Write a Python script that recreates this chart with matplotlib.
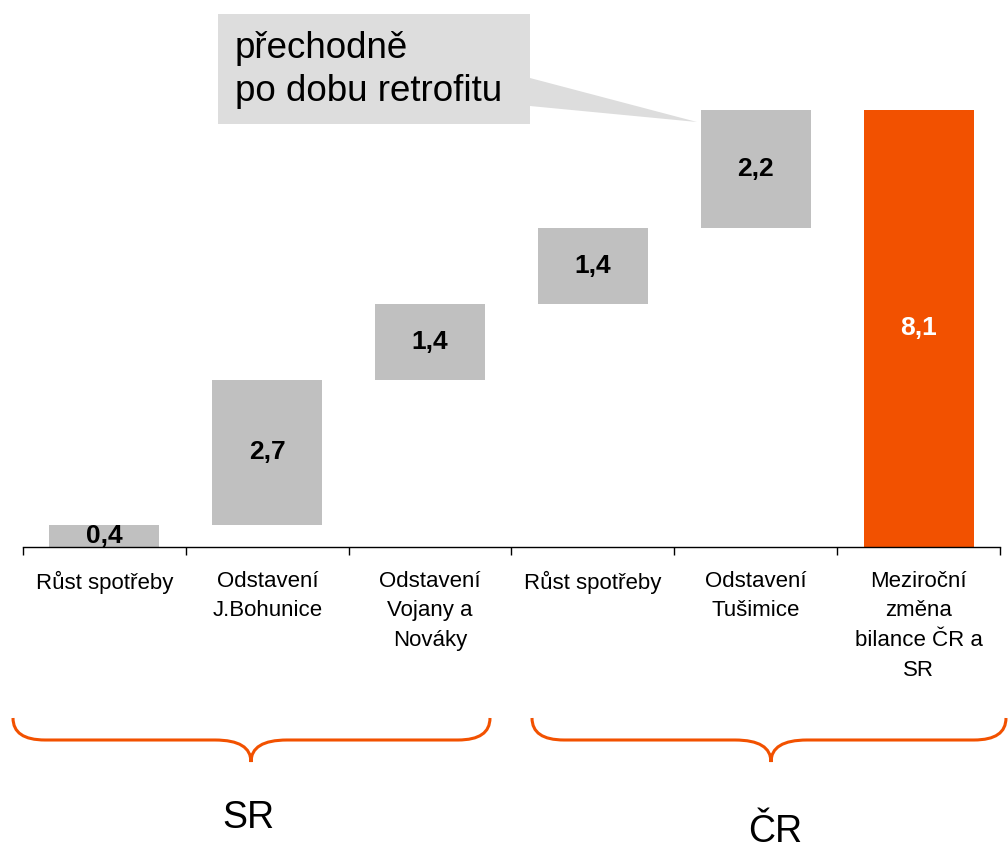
import matplotlib.pyplot as plt
from matplotlib.path import Path
from matplotlib.patches import PathPatch, Polygon
import numpy as np

plt.rcParams['font.family'] = ['Liberation Sans', 'DejaVu Sans']

categories = ["Růst spotřeby", "Odstavení\nJ.Bohunice", "Odstavení\nVojany a\nNováky",
              "Růst spotřeby", "Odstavení\nTušimice", "Meziroční\nzměna\nbilance ČR a\nSR"]
steps = [0.4, 2.7, 1.4, 1.4, 2.2]
total = 8.1
labels = ["0,4", "2,7", "1,4", "1,4", "2,2", "8,1"]
groups = ["SR", "ČR"]

gray = "#c0c0c0"
orange = "#f25100"

fig = plt.figure(figsize=(10.08, 8.48), dpi=100)
ax = fig.add_axes([23 / 1008, 1 - 547 / 848, 977 / 1008, 540 / 848])

bottoms = np.concatenate([[0], np.cumsum(steps)[:-1]])
x = np.arange(len(categories))
ax.bar(x[:-1], steps, bottom=bottoms, width=0.675, color=gray, zorder=2)
ax.bar(x[-1], total, width=0.675, color=orange, zorder=2)

for i, (h, b) in enumerate(zip(steps, bottoms)):
    ax.text(i, b + h / 2, labels[i], ha='center', va='center',
            fontsize=19, fontweight='bold', color='black', zorder=3)
ax.text(x[-1], total / 2, labels[-1], ha='center', va='center',
        fontsize=19, fontweight='bold', color='white', zorder=3)

ax.set_xlim(-0.5, len(categories) - 0.5)
ax.set_ylim(0, 10)
for s in ['left', 'right', 'top']:
    ax.spines[s].set_visible(False)
ax.spines['bottom'].set_linewidth(1)
ax.set_yticks([])
ax.set_xticks(np.arange(-0.5, len(categories)), [''] * (len(categories) + 1))
ax.set_xticks(x, categories, minor=True)
ax.tick_params(axis='x', which='major', length=6, direction='out', width=1)
ax.tick_params(axis='x', which='minor', length=0, pad=17, labelsize=16)
for t in ax.get_xticklabels(minor=True):
    t.set_linespacing(1.55)
ax.patch.set_alpha(0)

# overlay in pixel coordinates for callout and braces
ov = fig.add_axes([0, 0, 1, 1], zorder=5)
ov.set_xlim(0, 1008)
ov.set_ylim(848, 0)
ov.axis('off')

callout = Polygon([(218, 14), (530, 14), (530, 78), (697, 122), (530, 106),
                   (530, 124), (218, 124)], closed=True, facecolor="#dddddd",
                  edgecolor='none')
ov.add_patch(callout)
ov.text(235, 70, "přechodně\npo dobu retrofitu", ha='left', va='center',
        fontsize=26.5, linespacing=1.26, color='black')


def brace(x0, x1, xc, top=718, mid=740, tip=762, r=32, rc=36):
    verts = [(x0, top), (x0, mid), (x0 + r, mid),
             (xc - rc, mid),
             (xc, mid), (xc, tip),
             (xc, mid), (xc + rc, mid),
             (x1 - r, mid),
             (x1, mid), (x1, top)]
    codes = [Path.MOVETO, Path.CURVE3, Path.CURVE3,
             Path.LINETO,
             Path.CURVE3, Path.CURVE3,
             Path.CURVE3, Path.CURVE3,
             Path.LINETO,
             Path.CURVE3, Path.CURVE3]
    ov.add_patch(PathPatch(Path(verts, codes), facecolor='none',
                           edgecolor=orange, lw=2.2))


brace(13, 490, 251)
brace(532, 1006, 771)
ov.text(248, 818, groups[0], ha='center', va='center', fontsize=27)
ov.text(775, 832, groups[1], ha='center', va='center', fontsize=27)

fig.savefig("out.png", dpi=100)
